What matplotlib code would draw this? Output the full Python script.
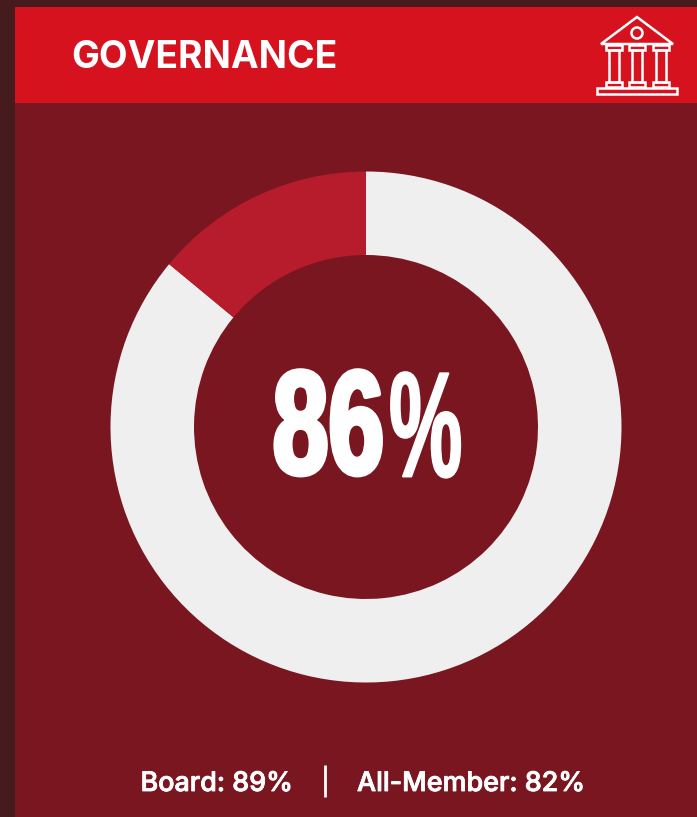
import matplotlib
matplotlib.use("Agg")
import matplotlib.pyplot as plt
import matplotlib.patheffects as pe
from matplotlib.patches import Circle, Polygon, Rectangle
from matplotlib.transforms import Affine2D

# colours
page_bg = "#451b1e"
panel_bg = "#7a1620"
header_bg = "#d7121f"
slice_red = "#b71c2c"
ring_grey = "#efefef"

title = "GOVERNANCE"
score = 86
shares = [score, 100 - score]
share_colors = [ring_grey, slice_red]
groups = ["Board", "All-Member"]
group_scores = [89, 82]


class Condensed(pe.AbstractPathEffect):
    # squeeze glyphs sideways around x0 and fatten them with a stroke
    def __init__(self, sx, x0, stroke):
        super().__init__()
        self.sx = sx
        self.x0 = x0
        self.stroke = stroke

    def draw_path(self, renderer, gc, tpath, affine, rgbFace=None):
        squeeze = Affine2D().translate(-self.x0, 0).scale(self.sx, 1).translate(self.x0, 0)
        gc0 = renderer.new_gc()
        gc0.copy_properties(gc)
        gc0.set_linewidth(self.stroke)
        gc0.set_foreground("white")
        renderer.draw_path(gc0, tpath, affine + squeeze, rgbFace)
        gc0.restore()


fig = plt.figure(figsize=(6.97, 8.17), dpi=100, facecolor=page_bg)

# full figure axes working in pixels, y going down
bg = fig.add_axes([0, 0, 1, 1])
bg.set_xlim(0, 697)
bg.set_ylim(817, 0)
bg.axis("off")
bg.add_patch(Rectangle((15, 7), 682, 810, fc=panel_bg, ec="none"))
bg.add_patch(Rectangle((15, 7), 682, 96, fc=header_bg, ec="none"))

bg.text(71, 67.5, title, color="white", fontsize=26.8, family="Inter",
        weight="bold", ha="left", va="baseline")

# building icon in the header
line = dict(fc="none", ec="white", lw=1.8)
bg.add_patch(Polygon([(637, 17), (601, 44), (673, 44)], joinstyle="miter", **line))
bg.add_patch(Circle((637, 33), 5.5, **line))
for cx in [613.5, 637, 660.5]:
    bg.add_patch(Rectangle((cx - 8, 45), 16, 5, **line))
    bg.add_patch(Rectangle((cx - 5, 50), 10, 32, **line))
    bg.add_patch(Rectangle((cx - 8, 82), 16, 5, **line))
bg.add_patch(Rectangle((597, 87.5), 80, 6.5, **line))

# donut
ax = fig.add_axes([110.5 / 697, (817 - 682.5) / 817, 511 / 697, 511 / 817])
ax.pie(shares, colors=share_colors, startangle=90, counterclock=False,
       radius=1, wedgeprops=dict(width=1 - 172 / 255.5, linewidth=0))
ax.set_xlim(-1, 1)
ax.set_ylim(-1, 1)
ax.axis("off")

# big number, digits and percent sign get different squeeze, each about its inner edge
digits = bg.text(384, 473.5, f"{score}", color="white", fontsize=106,
                 family="Liberation Sans", weight="bold", ha="right", va="baseline")
digits.set_path_effects([Condensed(0.68, 384, 3.6)])
pct = bg.text(389, 476.5, "%", color="white", fontsize=108,
              family="Liberation Sans", weight="bold", ha="left", va="baseline")
pct.set_path_effects([Condensed(0.55, 389, 1.4)])

# footer
thick = [pe.withStroke(linewidth=0.6, foreground="white")]
bg.text(293, 791, f"{groups[0]}: {group_scores[0]}%", color="white", fontsize=19.4,
        family="Inter", weight="medium", ha="right", va="baseline", path_effects=thick)
bg.plot([325, 325], [765, 797], color="white", lw=2, solid_capstyle="butt")
bg.text(357, 791, f"{groups[1]}: {group_scores[1]}%", color="white", fontsize=19.4,
        family="Inter", weight="medium", ha="left", va="baseline", path_effects=thick)

fig.savefig("out.png", dpi=100, facecolor=page_bg)
